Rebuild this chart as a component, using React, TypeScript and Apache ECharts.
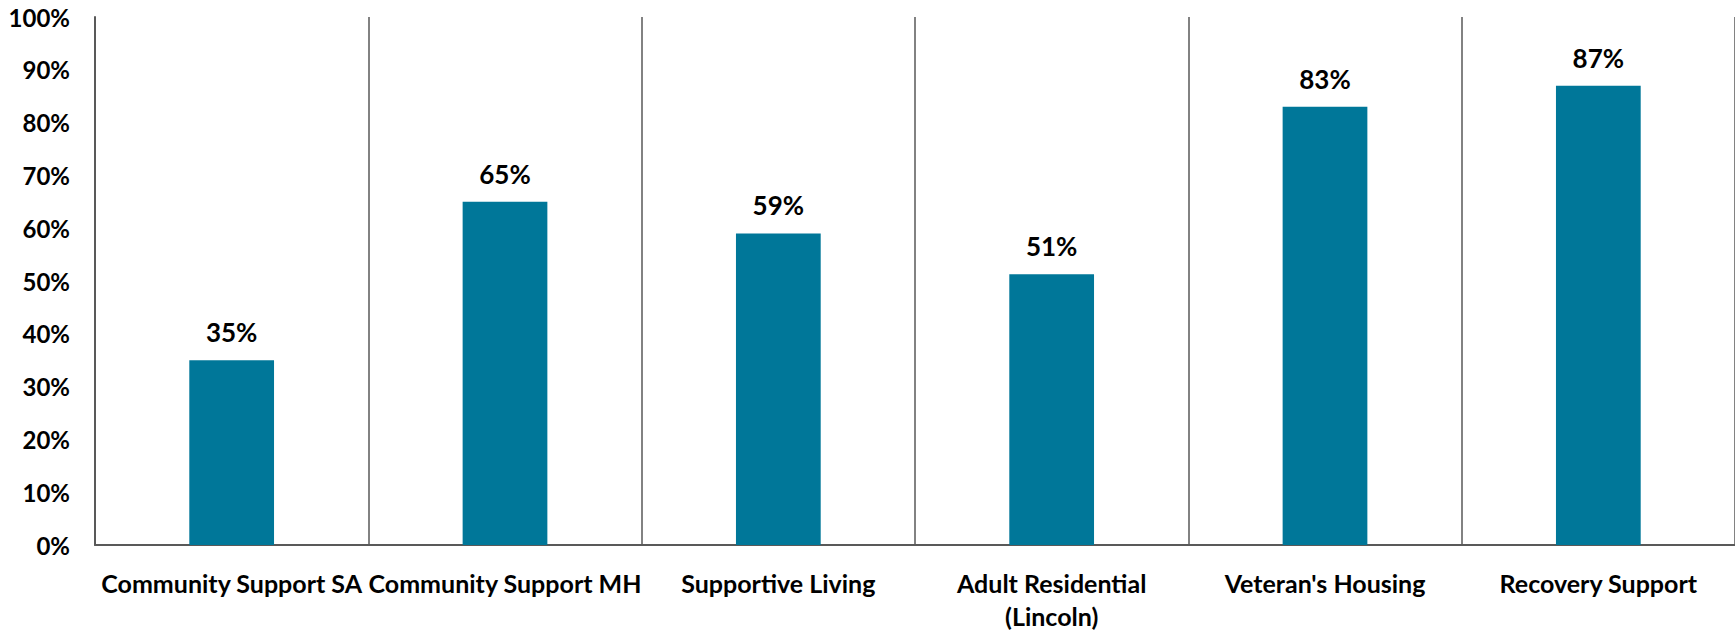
import React, { useEffect, useRef } from "react";
import * as echarts from "echarts";

const categories = [
  "Community Support SA",
  "Community Support MH",
  "Supportive Living",
  "Adult Residential\n(Lincoln)",
  "Veteran's Housing",
  "Recovery Support",
];
const values = [35, 65, 59, 51.3, 83, 87];
const dataLabels = ["35%", "65%", "59%", "51%", "83%", "87%"];

const FONT = "Lato";
const BAR = "#007799";
const AXIS = "#595959";

export default function App() {
  const ref = useRef<HTMLDivElement>(null);
  useEffect(() => {
    if (!ref.current) return;
    const chart = echarts.init(ref.current, null, { renderer: "svg" });
    chart.setOption({
      animation: false,
      backgroundColor: "#ffffff",
      grid: { left: 95, right: 0, top: 17, bottom: 81, containLabel: false },
      xAxis: {
        type: "category",
        data: categories,
        boundaryGap: true,
        axisLine: { show: true, lineStyle: { color: AXIS, width: 2 } },
        axisTick: { show: false },
        splitLine: { show: true, interval: 0, lineStyle: { color: AXIS, width: 1.5 } },
        axisLabel: {
          interval: 0,
          margin: 21,
          color: "#000000",
          fontFamily: FONT,
          fontWeight: "bold",
          fontSize: 25,
          lineHeight: 33,
        },
      },
      yAxis: {
        type: "value",
        min: 0,
        max: 100,
        interval: 10,
        axisLine: { show: true, lineStyle: { color: AXIS, width: 2 } },
        axisTick: { show: false },
        splitLine: { show: false },
        axisLabel: {
          margin: 25,
          color: "#000000",
          fontFamily: FONT,
          fontWeight: "bold",
          fontSize: 24,
          formatter: "{value}%",
        },
      },
      series: [
        {
          type: "bar",
          data: values,
          barWidth: "31%",
          itemStyle: { color: BAR },
          label: {
            show: true,
            position: "top",
            distance: 15,
            color: "#000000",
            fontFamily: FONT,
            fontWeight: "bold",
            fontSize: 26,
            formatter: (p: any) => dataLabels[p.dataIndex],
          },
        },
      ],
    });
    return () => chart.dispose();
  }, []);
  return (
    <div
      ref={ref}
      style={{ position: "fixed", left: 0, top: 0, width: 1735, height: 632 }}
    />
  );
}
